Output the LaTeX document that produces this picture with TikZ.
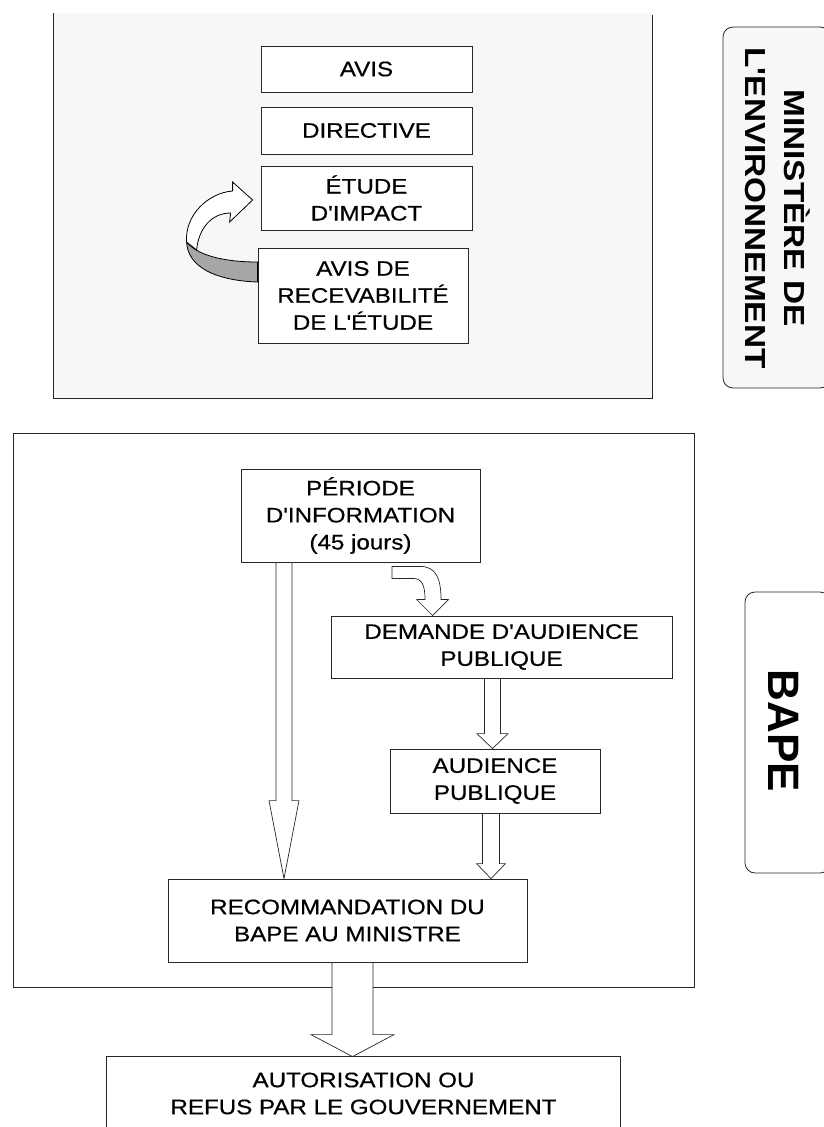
\documentclass[tikz,border=0pt]{standalone}
\usepackage{fontspec}
\newfontfamily\boxfont{Liberation Sans}[FakeStretch=1.15,FakeBold=0.5]
\newfontfamily\labfont{Liberation Sans}[FakeStretch=1.15]
\newfontfamily\bapefont{Liberation Sans}
\usetikzlibrary{calc}
% vertical hollow block arrow: #1 from node, #2 to node, #3 x centre, #4 half shaft, #5 half head, #6 head length
\newcommand{\vblock}[6]{%
  \draw[blk] let \p1=(#1.south), \p2=(#2.north) in
    (#3pt-#4pt,\y1) -- (#3pt-#4pt,\y2+#6pt) -- (#3pt-#5pt,\y2+#6pt) -- (#3pt,\y2)
    -- (#3pt+#5pt,\y2+#6pt) -- (#3pt+#4pt,\y2+#6pt) -- (#3pt+#4pt,\y1) -- cycle;}
\begin{document}
\begin{tikzpicture}[x=1pt,y=-1pt,
  panel/.style={line width=0.8pt, draw=black!85},
  box/.style={draw=black!85, line width=0.8pt, fill=white, align=center, inner sep=0pt,
    font=\boxfont\fontsize{21}{27}\selectfont},
  blk/.style={draw=black!85, line width=0.7pt, fill=white, line join=miter},
  lab/.style={draw=black!85, line width=0.8pt, rounded corners=10pt, fill=black!3}]
\useasboundingbox (0,0) rectangle (823,1127);

% ---------- top panel (Ministere) ----------
\fill[black!3] (53,13) rectangle (652,398);
\draw[panel] (53,13) -- (53,398) -- (652,398) -- (652,15);

\node[box, minimum width=211, minimum height=46] (avis) at (366.5,69) {AVIS};
\node[box, minimum width=211, minimum height=47] (dir) at (366.5,130.5) {DIRECTIVE};
\node[box, minimum width=211, minimum height=64] (etude) at (366.5,198) {ÉTUDE\\D'IMPACT};
\node[box, minimum width=210, minimum height=95] (recev) at (363,295.5) {AVIS DE\\RECEVABILITÉ\\DE L'ÉTUDE};

% curved 3D arrow from recev to etude
\coordinate (rs) at (recev.west);
\coordinate (et) at (etude.west);
\draw[draw=black, line width=0.8pt, fill=black!35]
  ($(rs)+(0,-33.5)$) -- ($(rs)+(0,-13.5)$)
  .. controls ($(rs)+(-43,-15)$) and ($(rs)+(-70,-29)$) .. ($(rs)+(-71,-53.5)$)
  .. controls ($(rs)+(-61,-41)$) and ($(rs)+(-36,-33.5)$) .. ($(rs)+(0,-33.5)$) -- cycle;
\draw[draw=black, line width=0.8pt, fill=white, line join=miter]
  ($(rs)+(-71,-53.5)$)
  .. controls ($(rs)+(-73,-80)$) and ($(et)+(-53,-5)$) .. ($(et)+(-28,-7)$)
  -- ($(et)+(-28,-16)$) -- ($(et)+(-8,2)$) -- ($(et)+(-31,24)$) -- ($(et)+(-30,15)$)
  .. controls ($(et)+(-49,15)$) and ($(rs)+(-59,-67)$) .. ($(rs)+(-61,-45.5)$) -- cycle;

% label box Ministere
\draw[lab] (723,27) rectangle (830,388);
\node[rotate=-90, align=center, font=\labfont\bfseries\fontsize{29}{39}\selectfont] (min) at (777.5,208) {MINISTÈRE DE\\L'ENVIRONNEMENT};

% ---------- bottom panel (BAPE) ----------
\draw[panel] (13,433) rectangle (694,987);

\node[box, minimum width=239, minimum height=93] (per) at (360.5,515.5) {PÉRIODE\\D'INFORMATION\\(45 jours)};
\node[box, minimum width=341, minimum height=62] (dem) at (501.5,647) {DEMANDE D'AUDIENCE\\PUBLIQUE};
\node[box, minimum width=210, minimum height=64] (aud) at (495,781) {AUDIENCE\\PUBLIQUE};
\node[box, minimum width=359, minimum height=83] (rec) at (347.5,920.5) {RECOMMANDATION DU\\BAPE AU MINISTRE};

% final box (open at the bottom)
\node[box, draw=none, fill=none, minimum width=513, minimum height=73] (fin) at (363.5,1093.5) {AUTORISATION OU\\REFUS PAR LE GOUVERNEMENT};
\draw[panel] (fin.south west) -- (fin.north west) -- (fin.north east) -- (fin.south east);

% arrows
\vblock{per}{rec}{284}{8}{15}{78}
\vblock{dem}{aud}{492.5}{8}{15.5}{15}
\vblock{aud}{rec}{491}{8.5}{14.5}{15}
\vblock{rec}{fin}{352.5}{20.5}{41.5}{22}

% curved arrow per -> dem
\coordinate (cs) at ($(per.south)+(31.5,4)$);
\coordinate (ct) at ($(dem.north west)+(102,0)$);
\draw[blk]
  (cs) -- ($(cs)+(28,0)$)
  .. controls ($(cs)+(44,0)$) and ($(cs)+(49,12)$) .. ($(cs)+(49,33)$)
  -- ($(ct)+(16,-16)$) -- (ct) -- ($(ct)+(-16,-16)$) -- ($(cs)+(33,33)$)
  .. controls ($(cs)+(33,19)$) and ($(cs)+(30,12)$) .. ($(cs)+(21,12)$)
  -- ($(cs)+(0,12)$) -- cycle;

% label box BAPE
\draw[lab, fill=none] (745,592) rectangle (830,873);
\node[rotate=-90, font=\bapefont\bfseries\fontsize{44}{50}\selectfont] (bape) at (784,731) {BAPE};
\end{tikzpicture}
\end{document}
